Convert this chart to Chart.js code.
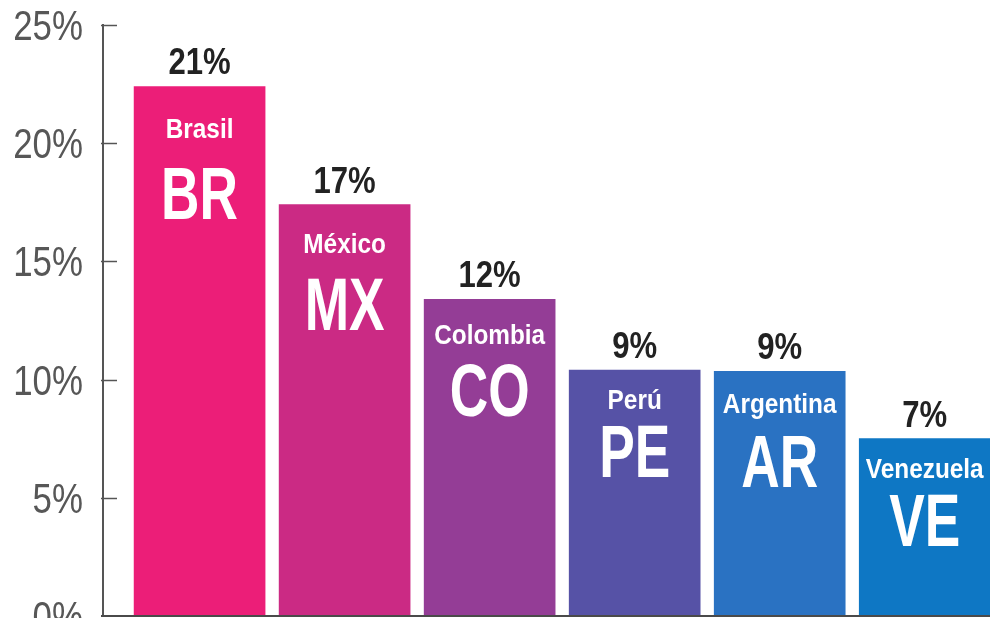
<!DOCTYPE html>
<html>
<head>
<meta charset="utf-8">
<script src="https://cdn.jsdelivr.net/npm/chart.js@4"></script>
<style>
html,body{margin:0;padding:0;background:#fff;overflow:hidden;}
#wrap{width:990px;height:618px;position:relative;}
</style>
</head>
<body>
<div id="wrap"><canvas id="c" width="990" height="618"></canvas></div>
<script>
// ---- data ----
const countries = ['Brasil', 'México', 'Colombia', 'Perú', 'Argentina', 'Venezuela'];
const codes = ['BR', 'MX', 'CO', 'PE', 'AR', 'VE'];
const barValues = [22.4, 17.4, 13.4, 10.4, 10.35, 7.5];
const valueLabels = ['21%', '17%', '12%', '9%', '9%', '7%'];
const yTickValues = [0, 5, 10, 15, 20, 25];

// ---- style ----
const barColors = ['#EC1E78', '#CB2A84', '#943D96', '#5652A6', '#2A72C2', '#0E77C4'];
const nameOffsets = [52, 48, 45, 39, 42, 39];
const codeOffsets = [133, 125, 117, 107, 116, 107];
const fam = '"Liberation Sans", Arial, sans-serif';

function narrowText(ctx, text, x, y, font, sx, color, align) {
  ctx.save();
  ctx.translate(x, y);
  ctx.scale(sx, 1);
  ctx.font = font;
  ctx.fillStyle = color;
  ctx.textAlign = align || 'center';
  ctx.textBaseline = 'alphabetic';
  ctx.fillText(text, 0, 0);
  ctx.restore();
}

const labelPlugin = {
  id: 'barLabels',
  afterDatasetsDraw(chart) {
    const ctx = chart.ctx;
    const meta = chart.getDatasetMeta(0);
    const area = chart.chartArea;
    const ys = chart.scales.y;
    ctx.save();
    // bottom axis line
    ctx.strokeStyle = '#4a4a4a';
    ctx.lineWidth = 2;
    ctx.beginPath();
    ctx.moveTo(area.left - 2, area.bottom);
    ctx.lineTo(area.right, area.bottom);
    ctx.stroke();
    // inner ticks + tick labels on y axis
    ctx.strokeStyle = '#555';
    ctx.lineWidth = 1.5;
    ys.ticks.forEach(t => {
      const py = ys.getPixelForValue(t.value);
      if (t.value !== 0) {
        const ly = Math.round(py) + 0.5;
        ctx.beginPath();
        ctx.moveTo(area.left - 2, ly);
        ctx.lineTo(area.left + 14, ly);
        ctx.stroke();
      }
      narrowText(ctx, t.value + '%', 83, py + 15, '42px ' + fam, 0.83, '#575757', 'right');
    });
    meta.data.forEach((bar, i) => {
      const x = bar.x, top = bar.y;
      narrowText(ctx, valueLabels[i], x, top - 12, 'bold 37px ' + fam, 0.84, '#222', 'center');
      narrowText(ctx, countries[i], x, top + nameOffsets[i], 'bold 28px ' + fam, 0.87, '#fff', 'center');
      narrowText(ctx, codes[i], x, top + codeOffsets[i], 'bold 74px ' + fam, 0.72, '#fff', 'center');
    });
    ctx.restore();
  }
};

new Chart(document.getElementById('c'), {
  type: 'bar',
  data: {
    labels: countries,
    datasets: [{
      data: barValues.map((v, i) => ({ x: i, y: v })),
      backgroundColor: barColors,
      borderWidth: 0,
      barThickness: 131
    }]
  },
  options: {
    responsive: false,
    animation: false,
    devicePixelRatio: 1,
    layout: { padding: { top: 25, bottom: 2, left: 0, right: 0 } },
    plugins: { legend: { display: false }, tooltip: { enabled: false } },
    scales: {
      x: {
        type: 'linear',
        display: false,
        offset: false,
        bounds: 'data',
        min: -0.666,
        max: 5.45,
        grid: { offset: false }
      },
      y: {
        min: 0,
        max: 25,
        afterBuildTicks(scale) { scale.ticks = yTickValues.map(v => ({ value: v })); },
        afterFit(scale) { scale.width = 103; scale.paddingTop = 0; scale.paddingBottom = 0; },
        grid: { display: true, drawOnChartArea: false, drawTicks: false },
        border: { display: true, color: '#555', width: 2 },
        ticks: { display: false }
      }
    }
  },
  plugins: [labelPlugin]
});
</script>
</body>
</html>
